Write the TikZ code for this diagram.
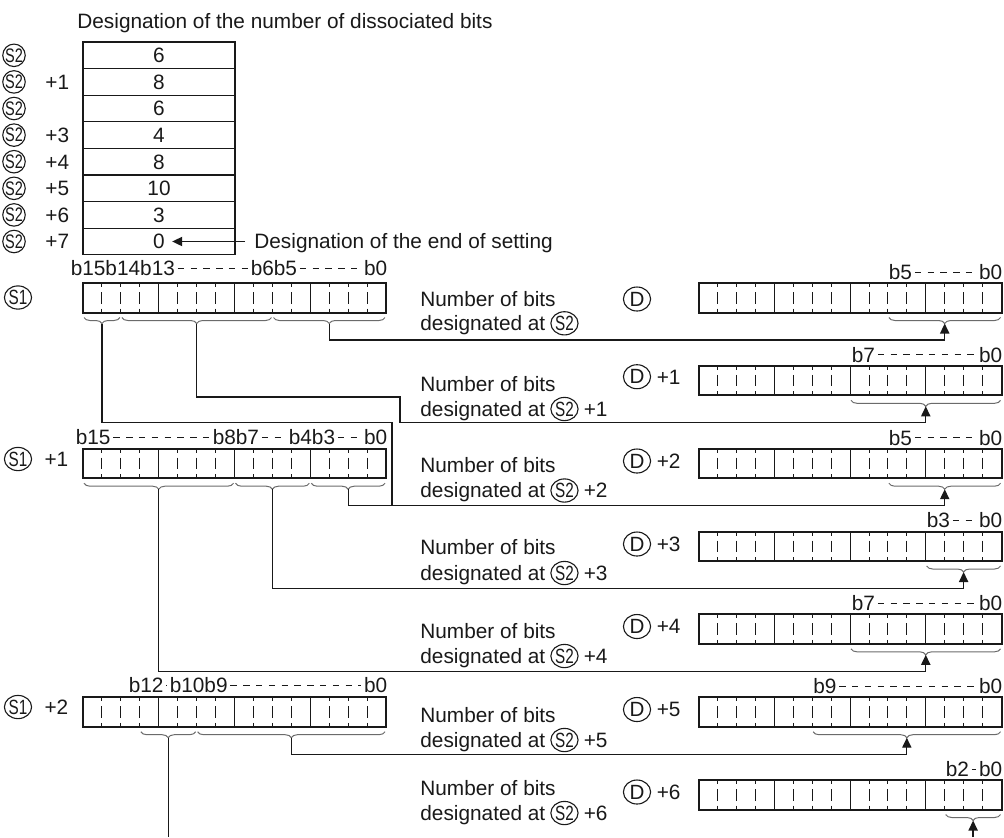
\documentclass[tikz,border=0pt]{standalone}
\usepackage{fontspec}
\setmainfont{Liberation Sans}
\usetikzlibrary{positioning,shapes.geometric,decorations.pathreplacing,arrows.meta}

\definecolor{ink}{gray}{0.1}
\definecolor{bracegray}{gray}{0.42}
\newcommand\sq[1]{\scalebox{0.74}[1]{#1}}

\begin{document}
\begin{tikzpicture}[x=0.5pt,y=-0.5pt,
    txt/.style={inner sep=0pt,text=ink,font=\fontsize{10.4}{12}\selectfont,text height=7.4pt,text depth=0pt},
    bitlbl/.style={txt,inner sep=1.2pt},
    regbox/.style={draw=ink,line width=1pt},
    nibble/.style={draw=ink,line width=0.5pt},
    bittick/.style={draw=ink,line width=0.45pt,dash pattern=on 2pt off 2.5pt on 5.8pt off 2.5pt on 2pt},
    tbl/.style={draw=ink,line width=0.65pt},
    bitbrace/.style={draw=bracegray,line width=0.5pt,decorate,decoration={brace,mirror,amplitude=3pt}},
    dashline/.style={draw=ink,line width=0.5pt,dash pattern=on 3.2pt off 3.2pt},
    link/.style={draw=ink,line width=0.65pt},
    linkarrow/.style={link,-{Triangle[length=5pt,width=4.6pt]}},
    opnd/.style={draw=ink,ellipse,inner sep=0pt,line width=0.55pt,minimum width=13.6pt,minimum height=11.6pt,text=ink,font=\fontsize{10.3}{12}\selectfont},
    dopnd/.style={opnd,minimum width=13.6pt,minimum height=12pt},
    opndsmall/.style={opnd,circle,minimum size=9.8pt,font=\fontsize{9.8}{11}\selectfont}]
    \useasboundingbox (0,0) rectangle (1004,837);

    \node[txt,anchor=west] (title) at (77,21) {Designation of the number of dissociated bits};
    \draw[tbl] (83,42) rectangle (235,254.8);
    \foreach \i in {1,...,7}
        \draw[tbl] (83,42+26.6*\i) -- (235,42+26.6*\i);
    \foreach \v [count=\i from 0] in {6,8,6,4,8,10,3,0} {
        \node[txt] (t\i) at (159,55.3+26.6*\i) {\v};
        \node[opndsmall] (q\i) at (14,55.3+26.6*\i) {\sq{S2}};
    }
    \foreach \i in {1,3,4,5,6,7}
        \node[txt,anchor=west] (p\i) at (45,55.3+26.6*\i) {+\i};
    \node[txt,anchor=west] (endset) at (254,241.5) {Designation of the end of setting};
    \draw[linkarrow] ([xshift=-4.5pt]endset.west) -- ([xshift=3.5pt]t7.east);

    \foreach \rx/\ry in {83/283,83/448.7,83/697.2,698.5/283,698.5/365.8,698.5/448.7,
                         698.5/531.5,698.5/614.3,698.5/697.2,698.5/780} {
        \foreach \b in {1,...,15} {
            \pgfmathtruncatemacro\nib{mod(\b,4)}
            \ifnum\nib=0 \draw[nibble] (\rx+18.94*\b,\ry) -- ++(0,29.5);
            \else \draw[bittick] (\rx+18.94*\b,\ry) -- ++(0,29.5); \fi
        }
        \draw[regbox] (\rx,\ry) rectangle ++(303,29.5);
    }

    \foreach \a/\b/\y/\n in {83/120.9/317.5/sA,120.9/272.5/317.5/sB,272.5/386/317.5/sC,
                             83/234.5/483.2/sD,234.5/310.3/483.2/sE,310.3/386/483.2/sF,
                             139.8/196.6/731.7/sG,196.6/386/731.7/sH,
                             887.9/1001.5/317.5/d0,850/1001.5/400.3/d1,887.9/1001.5/483.2/d2,
                             925.7/1001.5/566/d3,850/1001.5/648.8/d4,812.1/1001.5/731.7/d5,
                             944.7/1001.5/814.5/d6} {
        \draw[bitbrace] (\a+1,\y) -- (\b-1,\y);
        \coordinate (\n) at ({(\a+\b)/2},\y+6);
    }

    \node[bitlbl,anchor=west] (la0) at (68,268) {b15b14b13};
    \node[bitlbl,anchor=west] (lb0) at (248,268) {b6b5};
    \node[bitlbl,anchor=east] (lc0) at (390,268) {b0};
    \draw[dashline] (la0) -- (lb0) (lb0) -- (lc0);
    \node[bitlbl,anchor=west] (la1) at (73,437.5) {b15};
    \node[bitlbl,anchor=west] (lb1) at (210,437.5) {b8b7};
    \node[bitlbl,anchor=west] (lc1) at (286,437.5) {b4b3};
    \node[bitlbl,anchor=east] (ld1) at (390,437.5) {b0};
    \draw[dashline] (la1) -- (lb1) (lb1) -- (lc1) (lc1) -- (ld1);
    \node[bitlbl,anchor=west] (la2) at (126,685.5) {b12};
    \node[bitlbl,anchor=west] (lb2) at (167,685.5) {b10b9};
    \node[bitlbl,anchor=east] (lc2) at (390,685.5) {b0};
    \draw[dashline] (la2) -- (lb2) (lb2) -- (lc2);
    \foreach \k/\y/\x/\t in {0/272/886/b5,1/354.8/849/b7,2/437.7/886/b5,3/520.5/924/b3,
                             4/603.3/849/b7,5/686.2/810.5/b9,6/769/943/b2} {
        \node[bitlbl,anchor=west] (dl\k) at (\x,\y) {\t};
        \node[bitlbl,anchor=east] (dr\k) at (1005,\y) {b0};
        \draw[dashline] (dl\k) -- (dr\k);
    }

    \node[opnd] (s1a) at (18,297.5) {\sq{S1}};
    \node[opnd] (s1b) at (18,459) {\sq{S1}};
    \node[txt,right=6pt of s1b] (s1bp) {+1};
    \node[opnd] (s1c) at (18,707) {\sq{S1}};
    \node[txt,right=6pt of s1c] (s1cp) {+2};

    \foreach \k/\y in {0/299,1/376.7,2/461,3/544,4/626.5,5/709.5,6/792}
        \node[dopnd] (dd\k) at (637,\y) {D};
    \foreach \k in {1,...,6}
        \node[txt,right=2.6pt of dd\k] (dk\k) {+\k};

    \node[txt,anchor=west] (nb0) at (420,298.7) {Number of bits};
    \node[txt,anchor=west] (da0) at (420,323.3) {designated at};
    \node[opnd,right=2.3pt of da0] (ds0) {\sq{S2}};
    \foreach \k/\ya/\yb in {1/384/409,2/465.5/490.5,3/547.5/573,4/631/656,5/715/740,6/788/813} {
        \node[txt,anchor=west] (nb\k) at (420,\ya) {Number of bits};
        \node[txt,anchor=west] (da\k) at (420,\yb) {designated at};
        \node[opnd,right=2.3pt of da\k] (ds\k) {\sq{S2}};
        \node[txt,right=2.4pt of ds\k] (dp\k) {+\k};
    }

    \foreach \n/\y in {h0/340,h1/422.8,h2/505.7,h3/588.5,h4/671.3,h5/754.2,bot/837}
        \coordinate (\n) at (0,\y);
    \coordinate (j1) at (400,397);
    \coordinate (j2) at (392,422.8);
    \draw[linkarrow] (sC) |- (h0 -| d0) -- (d0);
    \draw[linkarrow] (sB) |- (j1) |- (h1 -| d1) -- (d1);
    \draw[link] (sA) |- (j2) -- (j2 |- h2);
    \draw[linkarrow] (sF) |- (h2 -| d2) -- (d2);
    \draw[linkarrow] (sE) |- (h3 -| d3) -- (d3);
    \draw[linkarrow] (sD) |- (h4 -| d4) -- (d4);
    \draw[linkarrow] (sH) |- (h5 -| d5) -- (d5);
    \draw[link] (sG) -- (sG |- bot);
    \draw[linkarrow] (d6 |- bot) -- (d6);
\end{tikzpicture}
\end{document}
